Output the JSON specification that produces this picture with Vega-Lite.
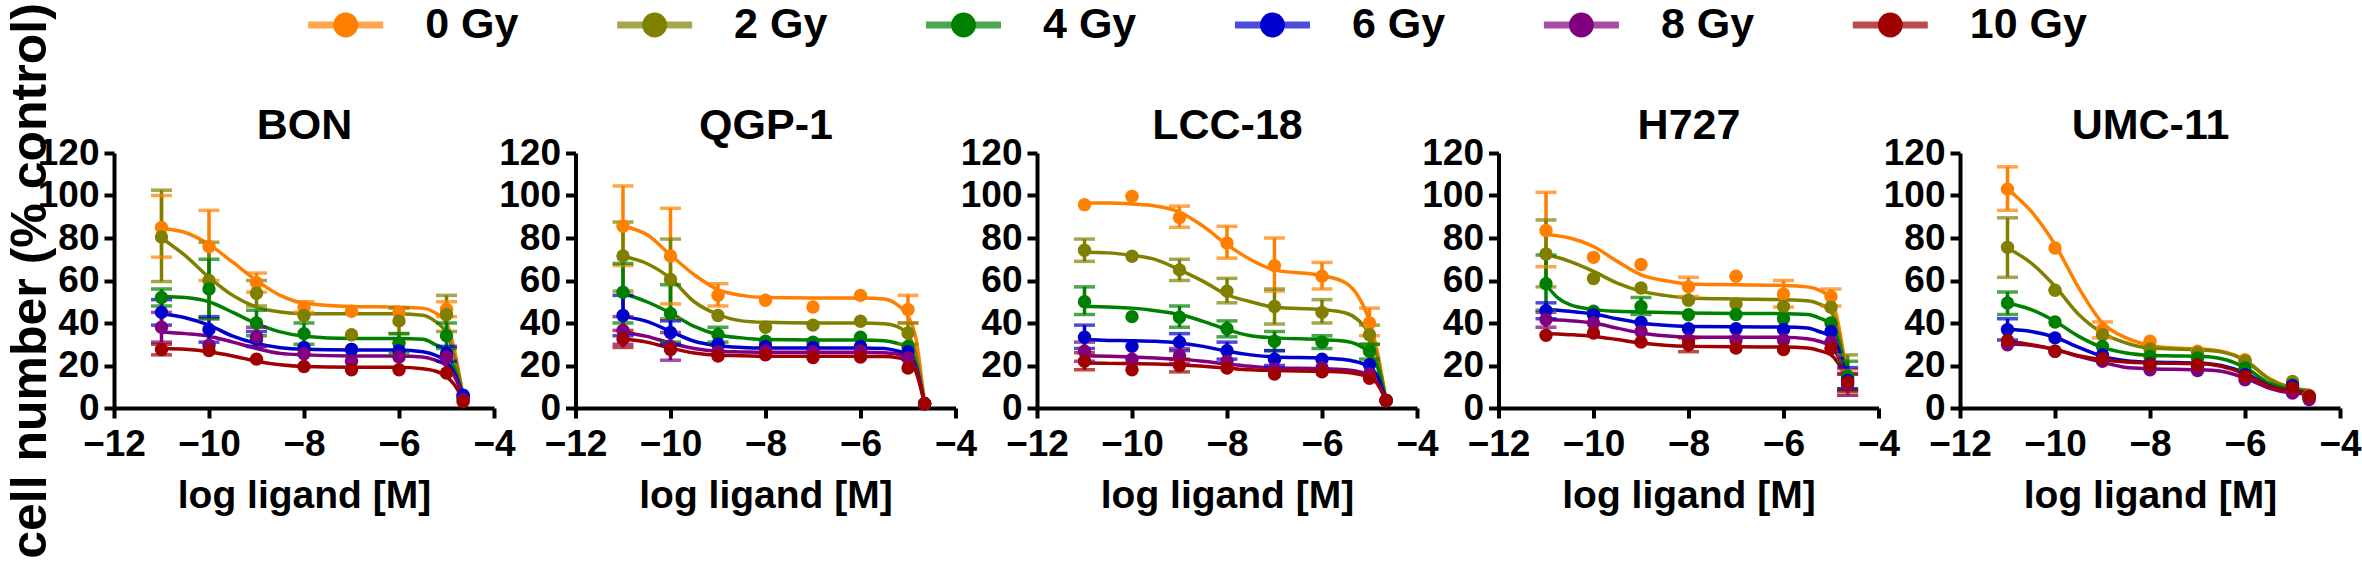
{
  "$schema": "https://vega.github.io/schema/vega-lite/v6.json",
  "background": "white",
  "padding": {"left": 5, "top": 2, "right": 0, "bottom": 0},
  "bounds": "flush",
  "spacing": 108,
  "resolve": {"scale": {"x": "independent", "y": "independent"}},
  "datasets": {
    "pts": [
      {"c":"BON","g":"0 Gy","x":-11,"y":85,"lo":71,"hi":100},
      {"c":"BON","g":"0 Gy","x":-10,"y":76,"lo":60,"hi":93},
      {"c":"BON","g":"0 Gy","x":-9,"y":59,"lo":54.5,"hi":63.5},
      {"c":"BON","g":"0 Gy","x":-8,"y":47.5,"lo":45,"hi":50},
      {"c":"BON","g":"0 Gy","x":-7,"y":45.5},
      {"c":"BON","g":"0 Gy","x":-6,"y":45},
      {"c":"BON","g":"0 Gy","x":-5,"y":46.5,"lo":43,"hi":50},
      {"c":"BON","g":"0 Gy","x":-4.65,"y":5},
      {"c":"BON","g":"2 Gy","x":-11,"y":80.5,"lo":59.5,"hi":102.5},
      {"c":"BON","g":"2 Gy","x":-10,"y":60,"lo":42,"hi":78},
      {"c":"BON","g":"2 Gy","x":-9,"y":54,"lo":48,"hi":60},
      {"c":"BON","g":"2 Gy","x":-8,"y":43.5},
      {"c":"BON","g":"2 Gy","x":-7,"y":34.5},
      {"c":"BON","g":"2 Gy","x":-6,"y":41,"lo":35,"hi":47},
      {"c":"BON","g":"2 Gy","x":-5,"y":44,"lo":36,"hi":53},
      {"c":"BON","g":"2 Gy","x":-4.65,"y":5},
      {"c":"BON","g":"4 Gy","x":-11,"y":52,"lo":48,"hi":56},
      {"c":"BON","g":"4 Gy","x":-10,"y":56,"lo":42,"hi":70},
      {"c":"BON","g":"4 Gy","x":-9,"y":40,"lo":34,"hi":46},
      {"c":"BON","g":"4 Gy","x":-8,"y":35,"lo":30,"hi":40},
      {"c":"BON","g":"4 Gy","x":-7,"y":27.5},
      {"c":"BON","g":"4 Gy","x":-6,"y":30.5,"lo":26,"hi":35},
      {"c":"BON","g":"4 Gy","x":-5,"y":34,"lo":28,"hi":40},
      {"c":"BON","g":"4 Gy","x":-4.65,"y":5.5},
      {"c":"BON","g":"6 Gy","x":-11,"y":45,"lo":39,"hi":51},
      {"c":"BON","g":"6 Gy","x":-10,"y":37,"lo":31,"hi":43},
      {"c":"BON","g":"6 Gy","x":-9,"y":32.5,"lo":29,"hi":36},
      {"c":"BON","g":"6 Gy","x":-8,"y":28.5},
      {"c":"BON","g":"6 Gy","x":-7,"y":27.5},
      {"c":"BON","g":"6 Gy","x":-6,"y":27},
      {"c":"BON","g":"6 Gy","x":-5,"y":25.5,"lo":22,"hi":29},
      {"c":"BON","g":"6 Gy","x":-4.65,"y":6},
      {"c":"BON","g":"8 Gy","x":-11,"y":38,"lo":31,"hi":45},
      {"c":"BON","g":"8 Gy","x":-10,"y":29.5},
      {"c":"BON","g":"8 Gy","x":-9,"y":33.5,"lo":29,"hi":38},
      {"c":"BON","g":"8 Gy","x":-8,"y":25.5},
      {"c":"BON","g":"8 Gy","x":-7,"y":22},
      {"c":"BON","g":"8 Gy","x":-6,"y":24},
      {"c":"BON","g":"8 Gy","x":-5,"y":24},
      {"c":"BON","g":"8 Gy","x":-4.65,"y":4},
      {"c":"BON","g":"10 Gy","x":-11,"y":27.5,"lo":25,"hi":30},
      {"c":"BON","g":"10 Gy","x":-10,"y":27},
      {"c":"BON","g":"10 Gy","x":-9,"y":23},
      {"c":"BON","g":"10 Gy","x":-8,"y":19.5},
      {"c":"BON","g":"10 Gy","x":-7,"y":18},
      {"c":"BON","g":"10 Gy","x":-6,"y":18},
      {"c":"BON","g":"10 Gy","x":-5,"y":16.5},
      {"c":"BON","g":"10 Gy","x":-4.65,"y":3},

      {"c":"QGP-1","g":"0 Gy","x":-11,"y":85.5,"lo":67,"hi":104.5},
      {"c":"QGP-1","g":"0 Gy","x":-10,"y":71.5,"lo":49,"hi":94},
      {"c":"QGP-1","g":"0 Gy","x":-9,"y":53,"lo":48,"hi":58.5},
      {"c":"QGP-1","g":"0 Gy","x":-8,"y":50.7},
      {"c":"QGP-1","g":"0 Gy","x":-7,"y":47.5},
      {"c":"QGP-1","g":"0 Gy","x":-6,"y":53},
      {"c":"QGP-1","g":"0 Gy","x":-5,"y":46.3,"lo":40,"hi":53},
      {"c":"QGP-1","g":"0 Gy","x":-4.65,"y":2},
      {"c":"QGP-1","g":"2 Gy","x":-11,"y":71.5,"lo":55,"hi":87.5},
      {"c":"QGP-1","g":"2 Gy","x":-10,"y":60.5,"lo":42,"hi":79.5},
      {"c":"QGP-1","g":"2 Gy","x":-9,"y":43.5},
      {"c":"QGP-1","g":"2 Gy","x":-8,"y":38},
      {"c":"QGP-1","g":"2 Gy","x":-7,"y":39},
      {"c":"QGP-1","g":"2 Gy","x":-6,"y":40.8},
      {"c":"QGP-1","g":"2 Gy","x":-5,"y":35.3,"lo":30,"hi":40},
      {"c":"QGP-1","g":"2 Gy","x":-4.65,"y":2},
      {"c":"QGP-1","g":"4 Gy","x":-11,"y":54.5,"lo":40,"hi":68},
      {"c":"QGP-1","g":"4 Gy","x":-10,"y":44.5,"lo":31,"hi":58},
      {"c":"QGP-1","g":"4 Gy","x":-9,"y":34.5,"lo":31,"hi":38},
      {"c":"QGP-1","g":"4 Gy","x":-8,"y":31.4},
      {"c":"QGP-1","g":"4 Gy","x":-7,"y":31},
      {"c":"QGP-1","g":"4 Gy","x":-6,"y":33.3},
      {"c":"QGP-1","g":"4 Gy","x":-5,"y":29},
      {"c":"QGP-1","g":"4 Gy","x":-4.65,"y":2},
      {"c":"QGP-1","g":"6 Gy","x":-11,"y":43.5,"lo":34,"hi":53},
      {"c":"QGP-1","g":"6 Gy","x":-10,"y":35.5,"lo":30,"hi":41},
      {"c":"QGP-1","g":"6 Gy","x":-9,"y":30},
      {"c":"QGP-1","g":"6 Gy","x":-8,"y":29},
      {"c":"QGP-1","g":"6 Gy","x":-7,"y":28.5},
      {"c":"QGP-1","g":"6 Gy","x":-6,"y":29},
      {"c":"QGP-1","g":"6 Gy","x":-5,"y":26.5},
      {"c":"QGP-1","g":"6 Gy","x":-4.65,"y":2},
      {"c":"QGP-1","g":"8 Gy","x":-11,"y":36.5,"lo":30,"hi":43},
      {"c":"QGP-1","g":"8 Gy","x":-10,"y":29,"lo":22.5,"hi":35.5},
      {"c":"QGP-1","g":"8 Gy","x":-9,"y":26.5},
      {"c":"QGP-1","g":"8 Gy","x":-8,"y":26.8},
      {"c":"QGP-1","g":"8 Gy","x":-7,"y":26.5},
      {"c":"QGP-1","g":"8 Gy","x":-6,"y":26.8},
      {"c":"QGP-1","g":"8 Gy","x":-5,"y":23.5},
      {"c":"QGP-1","g":"8 Gy","x":-4.65,"y":2},
      {"c":"QGP-1","g":"10 Gy","x":-11,"y":32.5,"lo":28.5,"hi":36.5},
      {"c":"QGP-1","g":"10 Gy","x":-10,"y":27.5},
      {"c":"QGP-1","g":"10 Gy","x":-9,"y":24.5},
      {"c":"QGP-1","g":"10 Gy","x":-8,"y":25},
      {"c":"QGP-1","g":"10 Gy","x":-7,"y":23.8},
      {"c":"QGP-1","g":"10 Gy","x":-6,"y":24},
      {"c":"QGP-1","g":"10 Gy","x":-5,"y":18.8},
      {"c":"QGP-1","g":"10 Gy","x":-4.65,"y":2},

      {"c":"LCC-18","g":"0 Gy","x":-11,"y":95.7},
      {"c":"LCC-18","g":"0 Gy","x":-10,"y":99.6},
      {"c":"LCC-18","g":"0 Gy","x":-9,"y":89.7,"lo":85,"hi":95},
      {"c":"LCC-18","g":"0 Gy","x":-8,"y":77.6,"lo":70.5,"hi":85.5},
      {"c":"LCC-18","g":"0 Gy","x":-7,"y":67,"lo":55,"hi":80},
      {"c":"LCC-18","g":"0 Gy","x":-6,"y":62,"lo":56,"hi":68.5},
      {"c":"LCC-18","g":"0 Gy","x":-5,"y":40,"lo":34,"hi":47},
      {"c":"LCC-18","g":"0 Gy","x":-4.65,"y":3.5},
      {"c":"LCC-18","g":"2 Gy","x":-11,"y":74.2,"lo":69,"hi":79.5},
      {"c":"LCC-18","g":"2 Gy","x":-10,"y":71.4},
      {"c":"LCC-18","g":"2 Gy","x":-9,"y":65,"lo":60,"hi":70},
      {"c":"LCC-18","g":"2 Gy","x":-8,"y":55,"lo":49.5,"hi":61},
      {"c":"LCC-18","g":"2 Gy","x":-7,"y":47.8,"lo":39.5,"hi":56},
      {"c":"LCC-18","g":"2 Gy","x":-6,"y":45,"lo":40,"hi":51},
      {"c":"LCC-18","g":"2 Gy","x":-5,"y":34.5,"lo":30,"hi":39},
      {"c":"LCC-18","g":"2 Gy","x":-4.65,"y":3.5},
      {"c":"LCC-18","g":"4 Gy","x":-11,"y":50,"lo":44,"hi":57},
      {"c":"LCC-18","g":"4 Gy","x":-10,"y":43},
      {"c":"LCC-18","g":"4 Gy","x":-9,"y":42.7,"lo":38,"hi":48},
      {"c":"LCC-18","g":"4 Gy","x":-8,"y":37.3,"lo":33.5,"hi":41},
      {"c":"LCC-18","g":"4 Gy","x":-7,"y":31.4,"lo":27,"hi":36},
      {"c":"LCC-18","g":"4 Gy","x":-6,"y":31,"lo":28,"hi":34},
      {"c":"LCC-18","g":"4 Gy","x":-5,"y":26.7,"lo":23,"hi":30},
      {"c":"LCC-18","g":"4 Gy","x":-4.65,"y":3.5},
      {"c":"LCC-18","g":"6 Gy","x":-11,"y":33.3,"lo":28,"hi":39},
      {"c":"LCC-18","g":"6 Gy","x":-10,"y":29},
      {"c":"LCC-18","g":"6 Gy","x":-9,"y":31,"lo":27,"hi":35},
      {"c":"LCC-18","g":"6 Gy","x":-8,"y":27,"lo":23,"hi":31},
      {"c":"LCC-18","g":"6 Gy","x":-7,"y":23,"lo":20,"hi":27},
      {"c":"LCC-18","g":"6 Gy","x":-6,"y":23},
      {"c":"LCC-18","g":"6 Gy","x":-5,"y":20.4},
      {"c":"LCC-18","g":"6 Gy","x":-4.65,"y":3.5},
      {"c":"LCC-18","g":"8 Gy","x":-11,"y":26.7,"lo":22,"hi":31},
      {"c":"LCC-18","g":"8 Gy","x":-10,"y":23},
      {"c":"LCC-18","g":"8 Gy","x":-9,"y":24.6,"lo":21,"hi":28},
      {"c":"LCC-18","g":"8 Gy","x":-8,"y":22},
      {"c":"LCC-18","g":"8 Gy","x":-7,"y":18.2},
      {"c":"LCC-18","g":"8 Gy","x":-6,"y":19},
      {"c":"LCC-18","g":"8 Gy","x":-5,"y":16},
      {"c":"LCC-18","g":"8 Gy","x":-4.65,"y":3.5},
      {"c":"LCC-18","g":"10 Gy","x":-11,"y":22,"lo":18,"hi":26},
      {"c":"LCC-18","g":"10 Gy","x":-10,"y":18},
      {"c":"LCC-18","g":"10 Gy","x":-9,"y":20,"lo":17,"hi":23},
      {"c":"LCC-18","g":"10 Gy","x":-8,"y":18.8},
      {"c":"LCC-18","g":"10 Gy","x":-7,"y":16},
      {"c":"LCC-18","g":"10 Gy","x":-6,"y":17},
      {"c":"LCC-18","g":"10 Gy","x":-5,"y":14},
      {"c":"LCC-18","g":"10 Gy","x":-4.65,"y":3.5},

      {"c":"H727","g":"0 Gy","x":-11,"y":83.5,"lo":66.5,"hi":101.5},
      {"c":"H727","g":"0 Gy","x":-10,"y":70.9},
      {"c":"H727","g":"0 Gy","x":-9,"y":67.5},
      {"c":"H727","g":"0 Gy","x":-8,"y":57,"lo":52.5,"hi":61.5},
      {"c":"H727","g":"0 Gy","x":-7,"y":62},
      {"c":"H727","g":"0 Gy","x":-6,"y":53.6,"lo":47.5,"hi":60},
      {"c":"H727","g":"0 Gy","x":-5,"y":52.5,"lo":48,"hi":56},
      {"c":"H727","g":"0 Gy","x":-4.65,"y":12,"lo":6,"hi":18},
      {"c":"H727","g":"2 Gy","x":-11,"y":72.5,"lo":57,"hi":88.5},
      {"c":"H727","g":"2 Gy","x":-10,"y":60.9},
      {"c":"H727","g":"2 Gy","x":-9,"y":56.5},
      {"c":"H727","g":"2 Gy","x":-8,"y":50.7},
      {"c":"H727","g":"2 Gy","x":-7,"y":49},
      {"c":"H727","g":"2 Gy","x":-6,"y":47.8},
      {"c":"H727","g":"2 Gy","x":-5,"y":47.4},
      {"c":"H727","g":"2 Gy","x":-4.65,"y":14,"lo":8,"hi":25},
      {"c":"H727","g":"4 Gy","x":-11,"y":58.5,"lo":46,"hi":72},
      {"c":"H727","g":"4 Gy","x":-10,"y":45.5},
      {"c":"H727","g":"4 Gy","x":-9,"y":47.8,"lo":44,"hi":52},
      {"c":"H727","g":"4 Gy","x":-8,"y":43.9},
      {"c":"H727","g":"4 Gy","x":-7,"y":44},
      {"c":"H727","g":"4 Gy","x":-6,"y":42},
      {"c":"H727","g":"4 Gy","x":-5,"y":40},
      {"c":"H727","g":"4 Gy","x":-4.65,"y":15,"lo":9,"hi":22},
      {"c":"H727","g":"6 Gy","x":-11,"y":45.8,"lo":42,"hi":49.5},
      {"c":"H727","g":"6 Gy","x":-10,"y":43.9},
      {"c":"H727","g":"6 Gy","x":-9,"y":40.3},
      {"c":"H727","g":"6 Gy","x":-8,"y":37.3},
      {"c":"H727","g":"6 Gy","x":-7,"y":37.3},
      {"c":"H727","g":"6 Gy","x":-6,"y":37},
      {"c":"H727","g":"6 Gy","x":-5,"y":36},
      {"c":"H727","g":"6 Gy","x":-4.65,"y":13,"lo":9,"hi":19},
      {"c":"H727","g":"8 Gy","x":-11,"y":41.6,"lo":38,"hi":45},
      {"c":"H727","g":"8 Gy","x":-10,"y":40},
      {"c":"H727","g":"8 Gy","x":-9,"y":36},
      {"c":"H727","g":"8 Gy","x":-8,"y":32},
      {"c":"H727","g":"8 Gy","x":-7,"y":32},
      {"c":"H727","g":"8 Gy","x":-6,"y":32},
      {"c":"H727","g":"8 Gy","x":-5,"y":31},
      {"c":"H727","g":"8 Gy","x":-4.65,"y":11,"lo":6,"hi":16},
      {"c":"H727","g":"10 Gy","x":-11,"y":34.2},
      {"c":"H727","g":"10 Gy","x":-10,"y":35.3},
      {"c":"H727","g":"10 Gy","x":-9,"y":31},
      {"c":"H727","g":"10 Gy","x":-8,"y":29.8,"lo":26.5,"hi":33},
      {"c":"H727","g":"10 Gy","x":-7,"y":28.2},
      {"c":"H727","g":"10 Gy","x":-6,"y":27.5},
      {"c":"H727","g":"10 Gy","x":-5,"y":28},
      {"c":"H727","g":"10 Gy","x":-4.65,"y":12,"lo":8,"hi":16},

      {"c":"UMC-11","g":"0 Gy","x":-11,"y":103,"lo":93,"hi":113.5},
      {"c":"UMC-11","g":"0 Gy","x":-10,"y":75.3},
      {"c":"UMC-11","g":"0 Gy","x":-9,"y":36.9,"lo":33,"hi":40.5},
      {"c":"UMC-11","g":"0 Gy","x":-8,"y":31.4},
      {"c":"UMC-11","g":"0 Gy","x":-7,"y":26.7},
      {"c":"UMC-11","g":"0 Gy","x":-6,"y":22.7},
      {"c":"UMC-11","g":"0 Gy","x":-5,"y":11.8},
      {"c":"UMC-11","g":"0 Gy","x":-4.65,"y":6},
      {"c":"UMC-11","g":"2 Gy","x":-11,"y":75.6,"lo":61.5,"hi":89.5},
      {"c":"UMC-11","g":"2 Gy","x":-10,"y":55.4},
      {"c":"UMC-11","g":"2 Gy","x":-9,"y":34.5},
      {"c":"UMC-11","g":"2 Gy","x":-8,"y":27.8},
      {"c":"UMC-11","g":"2 Gy","x":-7,"y":25.9},
      {"c":"UMC-11","g":"2 Gy","x":-6,"y":22},
      {"c":"UMC-11","g":"2 Gy","x":-5,"y":12.5},
      {"c":"UMC-11","g":"2 Gy","x":-4.65,"y":5.5},
      {"c":"UMC-11","g":"4 Gy","x":-11,"y":49.4,"lo":44,"hi":54.6},
      {"c":"UMC-11","g":"4 Gy","x":-10,"y":40.5},
      {"c":"UMC-11","g":"4 Gy","x":-9,"y":29},
      {"c":"UMC-11","g":"4 Gy","x":-8,"y":24.3},
      {"c":"UMC-11","g":"4 Gy","x":-7,"y":23.5},
      {"c":"UMC-11","g":"4 Gy","x":-6,"y":18.8},
      {"c":"UMC-11","g":"4 Gy","x":-5,"y":10.7},
      {"c":"UMC-11","g":"4 Gy","x":-4.65,"y":5.5},
      {"c":"UMC-11","g":"6 Gy","x":-11,"y":36.9,"lo":32,"hi":42},
      {"c":"UMC-11","g":"6 Gy","x":-10,"y":33},
      {"c":"UMC-11","g":"6 Gy","x":-9,"y":25},
      {"c":"UMC-11","g":"6 Gy","x":-8,"y":20.7},
      {"c":"UMC-11","g":"6 Gy","x":-7,"y":19.6},
      {"c":"UMC-11","g":"6 Gy","x":-6,"y":15.7},
      {"c":"UMC-11","g":"6 Gy","x":-5,"y":10.5},
      {"c":"UMC-11","g":"6 Gy","x":-4.65,"y":4.7},
      {"c":"UMC-11","g":"8 Gy","x":-11,"y":29.8},
      {"c":"UMC-11","g":"8 Gy","x":-10,"y":26.7},
      {"c":"UMC-11","g":"8 Gy","x":-9,"y":22},
      {"c":"UMC-11","g":"8 Gy","x":-8,"y":18},
      {"c":"UMC-11","g":"8 Gy","x":-7,"y":17.6},
      {"c":"UMC-11","g":"8 Gy","x":-6,"y":13.3},
      {"c":"UMC-11","g":"8 Gy","x":-5,"y":7},
      {"c":"UMC-11","g":"8 Gy","x":-4.65,"y":4},
      {"c":"UMC-11","g":"10 Gy","x":-11,"y":31.8},
      {"c":"UMC-11","g":"10 Gy","x":-10,"y":26.7},
      {"c":"UMC-11","g":"10 Gy","x":-9,"y":23.2},
      {"c":"UMC-11","g":"10 Gy","x":-8,"y":20.4},
      {"c":"UMC-11","g":"10 Gy","x":-7,"y":20.4},
      {"c":"UMC-11","g":"10 Gy","x":-6,"y":14.9},
      {"c":"UMC-11","g":"10 Gy","x":-5,"y":9.4},
      {"c":"UMC-11","g":"10 Gy","x":-4.65,"y":5.5}
    ],
    "fit": [
      {"c":"BON","x":-11,"0 Gy":84.5,"2 Gy":80,"4 Gy":52.5,"6 Gy":44.4,"8 Gy":35.8,"10 Gy":28},
      {"c":"BON","x":-10.5,"0 Gy":82.6,"2 Gy":71.7,"4 Gy":52,"6 Gy":42.5,"8 Gy":35,"10 Gy":27.6},
      {"c":"BON","x":-10,"0 Gy":77,"2 Gy":61.5,"4 Gy":50,"6 Gy":39,"8 Gy":33.8,"10 Gy":26.5},
      {"c":"BON","x":-9.5,"0 Gy":68.6,"2 Gy":53,"4 Gy":45,"6 Gy":33.8,"8 Gy":31,"10 Gy":24.5},
      {"c":"BON","x":-9,"0 Gy":60,"2 Gy":47.5,"4 Gy":39.7,"6 Gy":30.4,"8 Gy":28,"10 Gy":22},
      {"c":"BON","x":-8.5,"0 Gy":53,"2 Gy":45.2,"4 Gy":35.8,"6 Gy":28.4,"8 Gy":25.7,"10 Gy":20.3},
      {"c":"BON","x":-8,"0 Gy":49.4,"2 Gy":44.4,"4 Gy":33.8,"6 Gy":27.6,"8 Gy":25,"10 Gy":19.5},
      {"c":"BON","x":-7,"0 Gy":47.8,"2 Gy":44.4,"4 Gy":32.7,"6 Gy":27.3,"8 Gy":24.5,"10 Gy":19.2},
      {"c":"BON","x":-6,"0 Gy":47.5,"2 Gy":44.4,"4 Gy":32.7,"6 Gy":27.3,"8 Gy":24.5,"10 Gy":19.2},
      {"c":"BON","x":-5.5,"0 Gy":47,"2 Gy":43.6,"4 Gy":32.3,"6 Gy":26.5,"8 Gy":24,"10 Gy":18.5},
      {"c":"BON","x":-5.25,"0 Gy":45,"2 Gy":41,"4 Gy":30,"6 Gy":25,"8 Gy":22.6,"10 Gy":17.5},
      {"c":"BON","x":-5,"0 Gy":40,"2 Gy":35,"4 Gy":26.5,"6 Gy":21.8,"8 Gy":19.8,"10 Gy":14.8},
      {"c":"BON","x":-4.85,"0 Gy":29,"2 Gy":25.7,"4 Gy":19.5,"6 Gy":17,"8 Gy":15.6,"10 Gy":11.4},
      {"c":"BON","x":-4.65,"0 Gy":5,"2 Gy":6,"4 Gy":5.5,"6 Gy":6,"8 Gy":5.5,"10 Gy":4},

      {"c":"QGP-1","x":-11,"0 Gy":85.5,"2 Gy":71.4,"4 Gy":54,"6 Gy":43,"8 Gy":35.8,"10 Gy":32.6},
      {"c":"QGP-1","x":-10.5,"0 Gy":81.6,"2 Gy":68,"4 Gy":50,"6 Gy":40.8,"8 Gy":33.7,"10 Gy":31},
      {"c":"QGP-1","x":-10,"0 Gy":72,"2 Gy":61,"4 Gy":44.7,"6 Gy":36,"8 Gy":30.6,"10 Gy":28.2},
      {"c":"QGP-1","x":-9.5,"0 Gy":62.7,"2 Gy":50,"4 Gy":38.4,"6 Gy":31.4,"8 Gy":28,"10 Gy":25.9},
      {"c":"QGP-1","x":-9,"0 Gy":55.7,"2 Gy":44,"4 Gy":34.5,"6 Gy":29.3,"8 Gy":26.7,"10 Gy":24.8},
      {"c":"QGP-1","x":-8.5,"0 Gy":53,"2 Gy":41,"4 Gy":33,"6 Gy":28.5,"8 Gy":26.4,"10 Gy":24.6},
      {"c":"QGP-1","x":-8,"0 Gy":52,"2 Gy":40.3,"4 Gy":32.2,"6 Gy":28.2,"8 Gy":26.2,"10 Gy":24.3},
      {"c":"QGP-1","x":-7,"0 Gy":51.8,"2 Gy":40,"4 Gy":32,"6 Gy":28.2,"8 Gy":26.2,"10 Gy":24.3},
      {"c":"QGP-1","x":-6,"0 Gy":51.8,"2 Gy":40,"4 Gy":32,"6 Gy":28.2,"8 Gy":26.2,"10 Gy":24.3},
      {"c":"QGP-1","x":-5.5,"0 Gy":51.3,"2 Gy":39.7,"4 Gy":31.7,"6 Gy":28,"8 Gy":26,"10 Gy":24.2},
      {"c":"QGP-1","x":-5.25,"0 Gy":49,"2 Gy":38.5,"4 Gy":30.6,"6 Gy":27,"8 Gy":25.5,"10 Gy":23.8},
      {"c":"QGP-1","x":-5,"0 Gy":43,"2 Gy":34.5,"4 Gy":28.3,"6 Gy":25,"8 Gy":23.5,"10 Gy":22},
      {"c":"QGP-1","x":-4.85,"0 Gy":34.5,"2 Gy":26.7,"4 Gy":22,"6 Gy":20.4,"8 Gy":19.6,"10 Gy":18},
      {"c":"QGP-1","x":-4.65,"0 Gy":2,"2 Gy":2,"4 Gy":2,"6 Gy":2,"8 Gy":2,"10 Gy":2},

      {"c":"LCC-18","x":-11,"0 Gy":96.5,"2 Gy":73.3,"4 Gy":47.8,"6 Gy":32.2,"8 Gy":24.6,"10 Gy":21.2},
      {"c":"LCC-18","x":-10.5,"0 Gy":96.5,"2 Gy":73,"4 Gy":47.5,"6 Gy":31.8,"8 Gy":24.3,"10 Gy":21},
      {"c":"LCC-18","x":-10,"0 Gy":96,"2 Gy":71.8,"4 Gy":47,"6 Gy":31.7,"8 Gy":24,"10 Gy":20.9},
      {"c":"LCC-18","x":-9.5,"0 Gy":95,"2 Gy":69.8,"4 Gy":45.8,"6 Gy":31.4,"8 Gy":23.5,"10 Gy":20.7},
      {"c":"LCC-18","x":-9,"0 Gy":92.2,"2 Gy":65,"4 Gy":44,"6 Gy":30.6,"8 Gy":23,"10 Gy":20.4},
      {"c":"LCC-18","x":-8.5,"0 Gy":85.5,"2 Gy":59.6,"4 Gy":40.8,"6 Gy":29,"8 Gy":22,"10 Gy":19.6},
      {"c":"LCC-18","x":-8,"0 Gy":76.9,"2 Gy":53.3,"4 Gy":36.9,"6 Gy":26.7,"8 Gy":20.7,"10 Gy":18.8},
      {"c":"LCC-18","x":-7.5,"0 Gy":69.8,"2 Gy":50,"4 Gy":34,"6 Gy":25,"8 Gy":19.6,"10 Gy":18},
      {"c":"LCC-18","x":-7,"0 Gy":65,"2 Gy":47.4,"4 Gy":33,"6 Gy":24,"8 Gy":18.8,"10 Gy":17.6},
      {"c":"LCC-18","x":-6,"0 Gy":62.3,"2 Gy":46.3,"4 Gy":32.2,"6 Gy":23.5,"8 Gy":18.5,"10 Gy":17.3},
      {"c":"LCC-18","x":-5.5,"0 Gy":58.8,"2 Gy":44.7,"4 Gy":31.4,"6 Gy":22.7,"8 Gy":18,"10 Gy":16.8},
      {"c":"LCC-18","x":-5.25,"0 Gy":53,"2 Gy":41.6,"4 Gy":29.8,"6 Gy":21.6,"8 Gy":17.2,"10 Gy":16},
      {"c":"LCC-18","x":-5,"0 Gy":40.8,"2 Gy":34.5,"4 Gy":25.9,"6 Gy":19.3,"8 Gy":15.4,"10 Gy":14.4},
      {"c":"LCC-18","x":-4.85,"0 Gy":28,"2 Gy":25,"4 Gy":20.4,"6 Gy":15.7,"8 Gy":12.5,"10 Gy":11.8},
      {"c":"LCC-18","x":-4.65,"0 Gy":3.5,"2 Gy":3.5,"4 Gy":3.5,"6 Gy":3.5,"8 Gy":3.5,"10 Gy":3.5},

      {"c":"H727","x":-11,"0 Gy":81.6,"2 Gy":72,"4 Gy":58,"6 Gy":46.3,"8 Gy":41.6,"10 Gy":35},
      {"c":"H727","x":-10.75,"0 Gy":81,"2 Gy":70.8,"4 Gy":51.8,"6 Gy":46,"8 Gy":41.4,"10 Gy":34.8},
      {"c":"H727","x":-10.5,"0 Gy":80,"2 Gy":69,"4 Gy":48.6,"6 Gy":45.5,"8 Gy":41.1,"10 Gy":34.5},
      {"c":"H727","x":-10,"0 Gy":76,"2 Gy":64.3,"4 Gy":46.3,"6 Gy":44.2,"8 Gy":40,"10 Gy":33.7},
      {"c":"H727","x":-9.5,"0 Gy":69,"2 Gy":58.8,"4 Gy":45.5,"6 Gy":42,"8 Gy":37.6,"10 Gy":32.2},
      {"c":"H727","x":-9,"0 Gy":62.7,"2 Gy":55,"4 Gy":45.2,"6 Gy":40,"8 Gy":35.3,"10 Gy":30.6},
      {"c":"H727","x":-8.5,"0 Gy":60,"2 Gy":53,"4 Gy":44.9,"6 Gy":38.9,"8 Gy":34,"10 Gy":29.5},
      {"c":"H727","x":-8,"0 Gy":58.4,"2 Gy":51.8,"4 Gy":44.7,"6 Gy":38.4,"8 Gy":33.4,"10 Gy":29},
      {"c":"H727","x":-7,"0 Gy":58,"2 Gy":51.3,"4 Gy":44.5,"6 Gy":38.2,"8 Gy":33.3,"10 Gy":28.8},
      {"c":"H727","x":-6,"0 Gy":57.7,"2 Gy":51,"4 Gy":44.4,"6 Gy":38.1,"8 Gy":33.3,"10 Gy":28.7},
      {"c":"H727","x":-5.5,"0 Gy":57,"2 Gy":50.5,"4 Gy":44,"6 Gy":37.6,"8 Gy":32.6,"10 Gy":28.2},
      {"c":"H727","x":-5.25,"0 Gy":55.5,"2 Gy":49,"4 Gy":42.4,"6 Gy":36,"8 Gy":31.4,"10 Gy":27},
      {"c":"H727","x":-5,"0 Gy":51.5,"2 Gy":45.5,"4 Gy":39.2,"6 Gy":33.7,"8 Gy":29,"10 Gy":25},
      {"c":"H727","x":-4.85,"0 Gy":40,"2 Gy":36,"4 Gy":32,"6 Gy":28.2,"8 Gy":24.3,"10 Gy":21.2},
      {"c":"H727","x":-4.65,"0 Gy":12.5,"2 Gy":12.5,"4 Gy":12.5,"6 Gy":12.5,"8 Gy":12.5,"10 Gy":11.8},

      {"c":"UMC-11","x":-11,"0 Gy":103,"2 Gy":75.3,"4 Gy":49.4,"6 Gy":36.9,"8 Gy":30.1,"10 Gy":31.4},
      {"c":"UMC-11","x":-10.5,"0 Gy":92.5,"2 Gy":68.2,"4 Gy":46.3,"6 Gy":36,"8 Gy":29.5,"10 Gy":29.8},
      {"c":"UMC-11","x":-10,"0 Gy":76.9,"2 Gy":57.3,"4 Gy":40.8,"6 Gy":33.3,"8 Gy":27.5,"10 Gy":27.5},
      {"c":"UMC-11","x":-9.5,"0 Gy":56.5,"2 Gy":44,"4 Gy":33.7,"6 Gy":28.5,"8 Gy":24.3,"10 Gy":24.6},
      {"c":"UMC-11","x":-9,"0 Gy":40,"2 Gy":35.3,"4 Gy":28.5,"6 Gy":24.3,"8 Gy":21.5,"10 Gy":22.7},
      {"c":"UMC-11","x":-8.5,"0 Gy":33,"2 Gy":30.6,"4 Gy":25.9,"6 Gy":22.3,"8 Gy":19.1,"10 Gy":21.6},
      {"c":"UMC-11","x":-8,"0 Gy":29.5,"2 Gy":28.2,"4 Gy":24.8,"6 Gy":21.6,"8 Gy":18.5,"10 Gy":21.2},
      {"c":"UMC-11","x":-7.5,"0 Gy":28.2,"2 Gy":27.8,"4 Gy":24.5,"6 Gy":21.4,"8 Gy":18.2,"10 Gy":21},
      {"c":"UMC-11","x":-7,"0 Gy":27.9,"2 Gy":27.5,"4 Gy":24.3,"6 Gy":21.2,"8 Gy":18,"10 Gy":20.9},
      {"c":"UMC-11","x":-6.5,"0 Gy":26.7,"2 Gy":26.4,"4 Gy":23.2,"6 Gy":20,"8 Gy":17.3,"10 Gy":19.6},
      {"c":"UMC-11","x":-6,"0 Gy":22.7,"2 Gy":22.3,"4 Gy":19.1,"6 Gy":16.5,"8 Gy":14.1,"10 Gy":16},
      {"c":"UMC-11","x":-5.5,"0 Gy":14,"2 Gy":13.8,"4 Gy":11.8,"6 Gy":10.5,"8 Gy":9.4,"10 Gy":10.2},
      {"c":"UMC-11","x":-5,"0 Gy":9.4,"2 Gy":9.4,"4 Gy":8.6,"6 Gy":7.8,"8 Gy":7,"10 Gy":7.8},
      {"c":"UMC-11","x":-4.65,"0 Gy":8.2,"2 Gy":8.2,"4 Gy":7.8,"6 Gy":7.4,"8 Gy":6.6,"10 Gy":7}
    ]
  },
  "vconcat": [
    {
      "width": 2008, "height": 40,
      "data": {"values": [{"g": "0 Gy"}, {"g": "2 Gy"}, {"g": "4 Gy"}, {"g": "6 Gy"}, {"g": "8 Gy"}, {"g": "10 Gy"}]},
      "encoding": {"x": {"field": "g", "type": "nominal", "sort": null, "axis": null,
        "scale": {"type": "point", "padding": 0.75, "domain": ["0 Gy", "2 Gy", "4 Gy", "6 Gy", "8 Gy", "10 Gy"]}}},
      "layer": [
        {"mark": {"type": "tick", "orient": "horizontal", "size": 75, "thickness": 7},
         "encoding": {"fill": {"field": "g", "type": "nominal", "legend": null,
           "scale": {"domain": ["0 Gy", "2 Gy", "4 Gy", "6 Gy", "8 Gy", "10 Gy"], "range": ["#ff8000", "#808000", "#008000", "#0000cc", "#800080", "#a00000"]}}}},
        {"mark": {"type": "circle", "size": 615, "opacity": 1},
         "encoding": {"fill": {"field": "g", "type": "nominal", "legend": null}}},
        {"mark": {"type": "text", "align": "left", "baseline": "middle", "dx": 79.5, "fontSize": 43, "fontWeight": "bold", "color": "black"},
         "encoding": {"text": {"field": "g"}}}
      ]
    },
    {
      "bounds": "flush",
      "spacing": 81.5,
      "hconcat": [
        {
          "width": 380, "height": 255,
          "resolve": {"axis": {"x": "independent"}},
          "layer": [
            {"data": {"name": "fit"}, "transform": [{"filter": {"field": "c", "equal": "BON"}}, {"fold": ["0 Gy", "2 Gy", "4 Gy", "6 Gy", "8 Gy", "10 Gy"], "as": ["g", "v"]}],
             "mark": {"type": "line", "interpolate": "monotone", "strokeWidth": 3.5},
             "encoding": {"x": {"field": "x", "type": "quantitative", "scale": {"domain": [-12, -4], "nice": false, "zero": false}, "title": "log ligand [M]"},
               "y": {"field": "v", "type": "quantitative", "scale": {"domain": [0, 120], "nice": false}, "title": "cell number (% control)"},
               "stroke": {"field": "g", "type": "nominal", "legend": null, "scale": {"domain": ["0 Gy", "2 Gy", "4 Gy", "6 Gy", "8 Gy", "10 Gy"], "range": ["#ff8000", "#808000", "#008000", "#0000cc", "#800080", "#a00000"]}}}},
            {"data": {"name": "pts"}, "transform": [{"filter": {"field": "c", "equal": "BON"}}], "mark": {"type": "rule", "strokeWidth": 3.5},
             "encoding": {"x": {"field": "x", "type": "quantitative", "axis": null}, "y": {"field": "lo", "type": "quantitative", "title": "cell number (% control)"}, "y2": {"field": "hi"}, "stroke": {"field": "g", "type": "nominal", "legend": null}}},
            {"data": {"name": "pts"}, "transform": [{"filter": {"field": "c", "equal": "BON"}}], "mark": {"type": "tick", "orient": "horizontal", "size": 18, "thickness": 0.5, "filled": false, "strokeWidth": 3},
             "encoding": {"x": {"field": "x", "type": "quantitative", "axis": null}, "y": {"field": "lo", "type": "quantitative", "title": "cell number (% control)"}, "stroke": {"field": "g", "type": "nominal", "legend": null}}},
            {"data": {"name": "pts"}, "transform": [{"filter": {"field": "c", "equal": "BON"}}], "mark": {"type": "tick", "orient": "horizontal", "size": 18, "thickness": 0.5, "filled": false, "strokeWidth": 3},
             "encoding": {"x": {"field": "x", "type": "quantitative", "axis": null}, "y": {"field": "hi", "type": "quantitative", "title": "cell number (% control)"}, "stroke": {"field": "g", "type": "nominal", "legend": null}}},
            {"data": {"name": "pts"}, "transform": [{"filter": {"field": "c", "equal": "BON"}}], "mark": {"type": "circle", "size": 180, "opacity": 1},
             "encoding": {"x": {"field": "x", "type": "quantitative", "axis": {"orient": "top", "title": "BON", "domain": false, "ticks": false, "labels": false, "titleFontSize": 43, "titlePadding": 6}},
               "y": {"field": "y", "type": "quantitative", "title": "cell number (% control)"},
               "fill": {"field": "g", "type": "nominal", "legend": null}}}
          ]
        },
        {
          "width": 380, "height": 255,
          "resolve": {"axis": {"x": "independent"}},
          "layer": [
            {"data": {"name": "fit"}, "transform": [{"filter": {"field": "c", "equal": "QGP-1"}}, {"fold": ["0 Gy", "2 Gy", "4 Gy", "6 Gy", "8 Gy", "10 Gy"], "as": ["g", "v"]}],
             "mark": {"type": "line", "interpolate": "monotone", "strokeWidth": 3.5},
             "encoding": {"x": {"field": "x", "type": "quantitative", "scale": {"domain": [-12, -4], "nice": false, "zero": false}, "title": "log ligand [M]"},
               "y": {"field": "v", "type": "quantitative", "scale": {"domain": [0, 120], "nice": false}, "title": null},
               "stroke": {"field": "g", "type": "nominal", "legend": null}}},
            {"data": {"name": "pts"}, "transform": [{"filter": {"field": "c", "equal": "QGP-1"}}], "mark": {"type": "rule", "strokeWidth": 3.5},
             "encoding": {"x": {"field": "x", "type": "quantitative", "axis": null}, "y": {"field": "lo", "type": "quantitative", "title": null}, "y2": {"field": "hi"}, "stroke": {"field": "g", "type": "nominal", "legend": null}}},
            {"data": {"name": "pts"}, "transform": [{"filter": {"field": "c", "equal": "QGP-1"}}], "mark": {"type": "tick", "orient": "horizontal", "size": 18, "thickness": 0.5, "filled": false, "strokeWidth": 3},
             "encoding": {"x": {"field": "x", "type": "quantitative", "axis": null}, "y": {"field": "lo", "type": "quantitative", "title": null}, "stroke": {"field": "g", "type": "nominal", "legend": null}}},
            {"data": {"name": "pts"}, "transform": [{"filter": {"field": "c", "equal": "QGP-1"}}], "mark": {"type": "tick", "orient": "horizontal", "size": 18, "thickness": 0.5, "filled": false, "strokeWidth": 3},
             "encoding": {"x": {"field": "x", "type": "quantitative", "axis": null}, "y": {"field": "hi", "type": "quantitative", "title": null}, "stroke": {"field": "g", "type": "nominal", "legend": null}}},
            {"data": {"name": "pts"}, "transform": [{"filter": {"field": "c", "equal": "QGP-1"}}], "mark": {"type": "circle", "size": 180, "opacity": 1},
             "encoding": {"x": {"field": "x", "type": "quantitative", "axis": {"orient": "top", "title": "QGP-1", "domain": false, "ticks": false, "labels": false, "titleFontSize": 43, "titlePadding": 6}},
               "y": {"field": "y", "type": "quantitative", "title": null},
               "fill": {"field": "g", "type": "nominal", "legend": null}}}
          ]
        },
        {
          "width": 380, "height": 255,
          "resolve": {"axis": {"x": "independent"}},
          "layer": [
            {"data": {"name": "fit"}, "transform": [{"filter": {"field": "c", "equal": "LCC-18"}}, {"fold": ["0 Gy", "2 Gy", "4 Gy", "6 Gy", "8 Gy", "10 Gy"], "as": ["g", "v"]}],
             "mark": {"type": "line", "interpolate": "monotone", "strokeWidth": 3.5},
             "encoding": {"x": {"field": "x", "type": "quantitative", "scale": {"domain": [-12, -4], "nice": false, "zero": false}, "title": "log ligand [M]"},
               "y": {"field": "v", "type": "quantitative", "scale": {"domain": [0, 120], "nice": false}, "title": null},
               "stroke": {"field": "g", "type": "nominal", "legend": null}}},
            {"data": {"name": "pts"}, "transform": [{"filter": {"field": "c", "equal": "LCC-18"}}], "mark": {"type": "rule", "strokeWidth": 3.5},
             "encoding": {"x": {"field": "x", "type": "quantitative", "axis": null}, "y": {"field": "lo", "type": "quantitative", "title": null}, "y2": {"field": "hi"}, "stroke": {"field": "g", "type": "nominal", "legend": null}}},
            {"data": {"name": "pts"}, "transform": [{"filter": {"field": "c", "equal": "LCC-18"}}], "mark": {"type": "tick", "orient": "horizontal", "size": 18, "thickness": 0.5, "filled": false, "strokeWidth": 3},
             "encoding": {"x": {"field": "x", "type": "quantitative", "axis": null}, "y": {"field": "lo", "type": "quantitative", "title": null}, "stroke": {"field": "g", "type": "nominal", "legend": null}}},
            {"data": {"name": "pts"}, "transform": [{"filter": {"field": "c", "equal": "LCC-18"}}], "mark": {"type": "tick", "orient": "horizontal", "size": 18, "thickness": 0.5, "filled": false, "strokeWidth": 3},
             "encoding": {"x": {"field": "x", "type": "quantitative", "axis": null}, "y": {"field": "hi", "type": "quantitative", "title": null}, "stroke": {"field": "g", "type": "nominal", "legend": null}}},
            {"data": {"name": "pts"}, "transform": [{"filter": {"field": "c", "equal": "LCC-18"}}], "mark": {"type": "circle", "size": 180, "opacity": 1},
             "encoding": {"x": {"field": "x", "type": "quantitative", "axis": {"orient": "top", "title": "LCC-18", "domain": false, "ticks": false, "labels": false, "titleFontSize": 43, "titlePadding": 6}},
               "y": {"field": "y", "type": "quantitative", "title": null},
               "fill": {"field": "g", "type": "nominal", "legend": null}}}
          ]
        },
        {
          "width": 380, "height": 255,
          "resolve": {"axis": {"x": "independent"}},
          "layer": [
            {"data": {"name": "fit"}, "transform": [{"filter": {"field": "c", "equal": "H727"}}, {"fold": ["0 Gy", "2 Gy", "4 Gy", "6 Gy", "8 Gy", "10 Gy"], "as": ["g", "v"]}],
             "mark": {"type": "line", "interpolate": "monotone", "strokeWidth": 3.5},
             "encoding": {"x": {"field": "x", "type": "quantitative", "scale": {"domain": [-12, -4], "nice": false, "zero": false}, "title": "log ligand [M]"},
               "y": {"field": "v", "type": "quantitative", "scale": {"domain": [0, 120], "nice": false}, "title": null},
               "stroke": {"field": "g", "type": "nominal", "legend": null}}},
            {"data": {"name": "pts"}, "transform": [{"filter": {"field": "c", "equal": "H727"}}], "mark": {"type": "rule", "strokeWidth": 3.5},
             "encoding": {"x": {"field": "x", "type": "quantitative", "axis": null}, "y": {"field": "lo", "type": "quantitative", "title": null}, "y2": {"field": "hi"}, "stroke": {"field": "g", "type": "nominal", "legend": null}}},
            {"data": {"name": "pts"}, "transform": [{"filter": {"field": "c", "equal": "H727"}}], "mark": {"type": "tick", "orient": "horizontal", "size": 18, "thickness": 0.5, "filled": false, "strokeWidth": 3},
             "encoding": {"x": {"field": "x", "type": "quantitative", "axis": null}, "y": {"field": "lo", "type": "quantitative", "title": null}, "stroke": {"field": "g", "type": "nominal", "legend": null}}},
            {"data": {"name": "pts"}, "transform": [{"filter": {"field": "c", "equal": "H727"}}], "mark": {"type": "tick", "orient": "horizontal", "size": 18, "thickness": 0.5, "filled": false, "strokeWidth": 3},
             "encoding": {"x": {"field": "x", "type": "quantitative", "axis": null}, "y": {"field": "hi", "type": "quantitative", "title": null}, "stroke": {"field": "g", "type": "nominal", "legend": null}}},
            {"data": {"name": "pts"}, "transform": [{"filter": {"field": "c", "equal": "H727"}}], "mark": {"type": "circle", "size": 180, "opacity": 1},
             "encoding": {"x": {"field": "x", "type": "quantitative", "axis": {"orient": "top", "title": "H727", "domain": false, "ticks": false, "labels": false, "titleFontSize": 43, "titlePadding": 6}},
               "y": {"field": "y", "type": "quantitative", "title": null},
               "fill": {"field": "g", "type": "nominal", "legend": null}}}
          ]
        },
        {
          "width": 380, "height": 255,
          "resolve": {"axis": {"x": "independent"}},
          "layer": [
            {"data": {"name": "fit"}, "transform": [{"filter": {"field": "c", "equal": "UMC-11"}}, {"fold": ["0 Gy", "2 Gy", "4 Gy", "6 Gy", "8 Gy", "10 Gy"], "as": ["g", "v"]}],
             "mark": {"type": "line", "interpolate": "monotone", "strokeWidth": 3.5},
             "encoding": {"x": {"field": "x", "type": "quantitative", "scale": {"domain": [-12, -4], "nice": false, "zero": false}, "title": "log ligand [M]"},
               "y": {"field": "v", "type": "quantitative", "scale": {"domain": [0, 120], "nice": false}, "title": null},
               "stroke": {"field": "g", "type": "nominal", "legend": null}}},
            {"data": {"name": "pts"}, "transform": [{"filter": {"field": "c", "equal": "UMC-11"}}], "mark": {"type": "rule", "strokeWidth": 3.5},
             "encoding": {"x": {"field": "x", "type": "quantitative", "axis": null}, "y": {"field": "lo", "type": "quantitative", "title": null}, "y2": {"field": "hi"}, "stroke": {"field": "g", "type": "nominal", "legend": null}}},
            {"data": {"name": "pts"}, "transform": [{"filter": {"field": "c", "equal": "UMC-11"}}], "mark": {"type": "tick", "orient": "horizontal", "size": 18, "thickness": 0.5, "filled": false, "strokeWidth": 3},
             "encoding": {"x": {"field": "x", "type": "quantitative", "axis": null}, "y": {"field": "lo", "type": "quantitative", "title": null}, "stroke": {"field": "g", "type": "nominal", "legend": null}}},
            {"data": {"name": "pts"}, "transform": [{"filter": {"field": "c", "equal": "UMC-11"}}], "mark": {"type": "tick", "orient": "horizontal", "size": 18, "thickness": 0.5, "filled": false, "strokeWidth": 3},
             "encoding": {"x": {"field": "x", "type": "quantitative", "axis": null}, "y": {"field": "hi", "type": "quantitative", "title": null}, "stroke": {"field": "g", "type": "nominal", "legend": null}}},
            {"data": {"name": "pts"}, "transform": [{"filter": {"field": "c", "equal": "UMC-11"}}], "mark": {"type": "circle", "size": 180, "opacity": 1},
             "encoding": {"x": {"field": "x", "type": "quantitative", "axis": {"orient": "top", "title": "UMC-11", "domain": false, "ticks": false, "labels": false, "titleFontSize": 43, "titlePadding": 6}},
               "y": {"field": "y", "type": "quantitative", "title": null},
               "fill": {"field": "g", "type": "nominal", "legend": null}}}
          ]
        }
      ]
    }
  ],
  "config": {
    "font": "Liberation Sans, Arial, sans-serif",
    "view": {"stroke": null},
    "axis": {"domainColor": "black", "domainWidth": 4, "tickColor": "black", "tickWidth": 4, "tickSize": 10,
      "labelFontSize": 37, "labelFontWeight": "bold", "labelColor": "black", "labelFlush": false,
      "titleFontSize": 39, "titleFontWeight": "bold", "titleColor": "black", "grid": false},
    "axisX": {"labelPadding": 8, "titlePadding": 14, "tickCount": 5},
    "axisY": {"labelPadding": 5, "tickCount": 7, "titleFontSize": 50, "titlePadding": -18}
  }
}
